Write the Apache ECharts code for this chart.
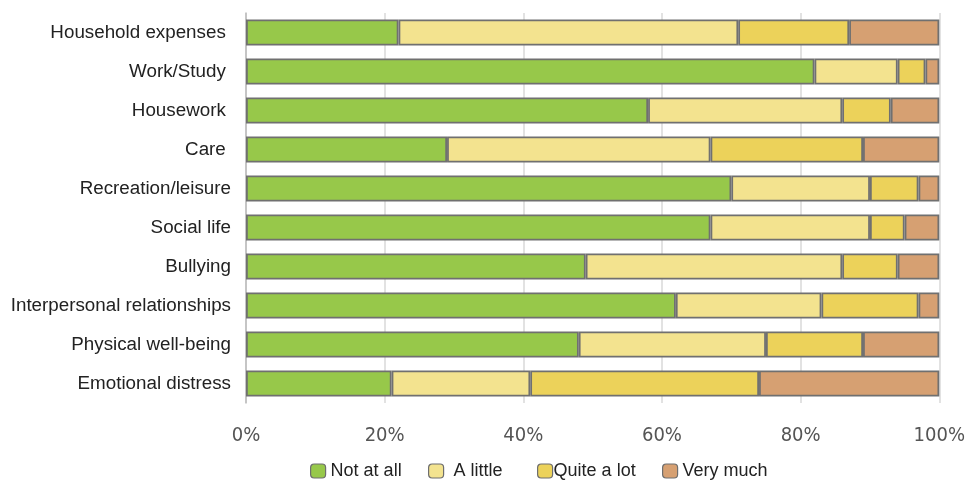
<!DOCTYPE html>
<html>
<head>
<meta charset="utf-8">
<script src="https://cdn.jsdelivr.net/npm/echarts@6/dist/echarts.min.js"></script>
<style>html,body{margin:0;padding:0;background:#fff;}#c{width:968px;height:482px;}</style>
</head>
<body>
<div id="c"></div>
<script>
const categories = ["Household expenses ","Work/Study ","Housework ","Care ","Recreation/leisure","Social life","Bullying","Interpersonal relationships","Physical well-being","Emotional distress"];
const notAtAll  = [22, 82, 58, 29, 70, 67, 49, 62, 48, 21];
const aLittle   = [49, 12, 28, 38, 20, 23, 37, 21, 27, 20];
const quiteALot = [16,  4,  7, 22,  7,  5,  8, 14, 14, 33];
const veryMuch  = [13,  2,  7, 11,  3,  5,  6,  3, 11, 26];
const xTicks = [0, 20, 40, 60, 80, 100];

const seriesDefs = [
  {name: "Not at all", data: notAtAll, color: "#97c84a"},
  {name: "A little", data: aLittle, color: "#f3e38f"},
  {name: "Quite a lot", data: quiteALot, color: "#ecd25a"},
  {name: "Very much", data: veryMuch, color: "#d6a072"}
];
const legendPos = [
  {left: 310, pad: 0},
  {left: 428, pad: 5},
  {left: 537, pad: -4},
  {left: 662, pad: 0}
];

const chart = echarts.init(document.getElementById('c'));
chart.setOption({
  animation: false,
  grid: {left: 246, right: 26, top: 13, bottom: 79, containLabel: false},
  legend: seriesDefs.map((s, i) => ({
    top: 462, left: legendPos[i].left,
    itemWidth: 15, itemHeight: 14, itemGap: 0, padding: 0,
    textStyle: {fontSize: 18, color: '#222', fontFamily: 'Liberation Sans, Arial, sans-serif',
                padding: [0, 0, 0, legendPos[i].pad]},
    data: [{name: s.name, itemStyle: {color: s.color, borderColor: '#6e6e6e', borderWidth: 1.2}}]
  })),
  xAxis: {
    type: 'value', min: 0, max: 100, interval: 20,
    axisLine: {show: false}, axisTick: {show: false},
    splitLine: {show: true, lineStyle: {color: '#d9d9d9', width: 1.5}},
    axisLabel: {
      formatter: v => xTicks.includes(v) ? v + '%' : '',
      fontSize: 20, color: '#555', margin: 23,
      fontFamily: 'DejaVu Sans Condensed, sans-serif'
    }
  },
  yAxis: {
    type: 'category', data: categories, inverse: true,
    axisLine: {show: true, lineStyle: {color: '#bbb', width: 1.5}},
    axisTick: {show: false},
    axisLabel: {fontSize: 18.8, color: '#222', margin: 15, fontFamily: 'Liberation Sans, Arial, sans-serif'}
  },
  series: seriesDefs.map(s => ({
    name: s.name, type: 'bar', stack: 'total', data: s.data,
    barCategoryGap: '33%',
    itemStyle: {color: s.color, borderColor: '#707070', borderWidth: 1.8}
  }))
});
</script>
</body>
</html>
